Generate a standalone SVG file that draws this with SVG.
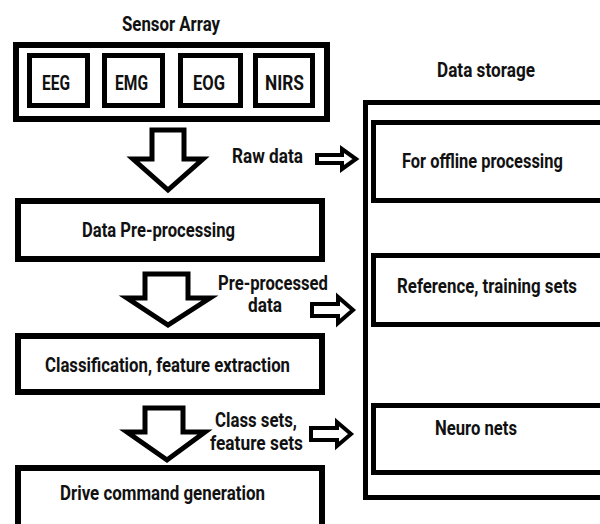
<svg xmlns="http://www.w3.org/2000/svg" width="600" height="524" viewBox="0 0 600 524">
<style>
.box{fill:#fff;stroke:#000;stroke-width:6}
.ibox{fill:#fff;stroke:#000;stroke-width:5}
.big{fill:#fff;stroke:#000;stroke-width:5;stroke-linejoin:miter}
.small{fill:#fff;stroke:#000;stroke-width:4;stroke-linejoin:miter}
text{font-family:Roboto,"Liberation Sans",sans-serif;font-weight:700;font-size:21px;fill:#111}
</style>
<rect width="600" height="524" fill="#fff"/>
<g id="sensor-array">
<text x="122" y="31" textLength="98" lengthAdjust="spacingAndGlyphs">Sensor Array</text>
<rect class="box" x="16" y="45" width="311" height="74"/>
<g id="eeg"><rect class="ibox" x="29.5" y="55.5" width="58" height="50"/><text x="42" y="90" textLength="28" lengthAdjust="spacingAndGlyphs">EEG</text></g>
<g id="emg"><rect class="ibox" x="104.5" y="55.5" width="58" height="50"/><text x="115" y="90" textLength="33" lengthAdjust="spacingAndGlyphs">EMG</text></g>
<g id="eog"><rect class="ibox" x="180.5" y="55.5" width="60" height="50"/><text x="193" y="90" textLength="32" lengthAdjust="spacingAndGlyphs">EOG</text></g>
<g id="nirs"><rect class="ibox" x="255.5" y="55.5" width="57" height="50"/><text x="265" y="90" textLength="39" lengthAdjust="spacingAndGlyphs">NIRS</text></g>
</g>
<g id="data-preprocessing">
<rect class="box" x="18" y="201" width="304" height="58"/>
<text x="82" y="237" textLength="153" lengthAdjust="spacingAndGlyphs">Data Pre-processing</text>
</g>
<g id="classification">
<rect class="box" x="18" y="336" width="304" height="56"/>
<text x="45" y="372" textLength="245" lengthAdjust="spacingAndGlyphs">Classification, feature extraction</text>
</g>
<g id="drive-command">
<rect class="box" x="18" y="468" width="304" height="80"/>
<text x="60" y="500" textLength="205" lengthAdjust="spacingAndGlyphs">Drive command generation</text>
</g>
<g id="data-storage">
<text x="437" y="77" textLength="98" lengthAdjust="spacingAndGlyphs">Data storage</text>
<rect class="ibox" x="365.5" y="102.5" width="260" height="395"/>
<g id="offline"><rect class="ibox" x="373.5" y="122.5" width="250" height="78"/><text transform="translate(402,168) scale(0.8,1)" x="0" y="0" textLength="201" lengthAdjust="spacingAndGlyphs">For offline processing</text></g>
<g id="reference"><rect class="ibox" x="373.5" y="255.5" width="250" height="69"/><text transform="translate(397,293) scale(0.8,1)" x="0" y="0" textLength="225" lengthAdjust="spacingAndGlyphs">Reference, training sets</text></g>
<g id="neuro"><rect class="ibox" x="373.5" y="405.5" width="250" height="67"/><text x="435" y="435" textLength="82" lengthAdjust="spacingAndGlyphs">Neuro nets</text></g>
</g>
<g id="connectors">
<polygon class="big" points="152,130 184,130 184,159 203,159 168,190 133,159 152,159"/>
<polygon class="big" points="145,274 188,274 188,298 210,298 168,325 127,298 145,298"/>
<polygon class="big" points="145,408 183,408 183,432 205,432 167,460 127,432 145,432"/>
<polygon class="small" points="317,155 342,155 342,149 356,159 342,169 342,163 317,163"/>
<polygon class="small" points="312,304 338,304 338,297 353,310 338,323 338,316 312,316"/>
<polygon class="small" points="311,428 337,428 337,422 351,434 337,446 337,440 311,440"/>
<text x="232" y="163" textLength="71" lengthAdjust="spacingAndGlyphs">Raw data</text>
<text x="218" y="290" textLength="110" lengthAdjust="spacingAndGlyphs">Pre-processed</text>
<text x="248" y="312" textLength="34" lengthAdjust="spacingAndGlyphs">data</text>
<text x="215" y="427" textLength="82" lengthAdjust="spacingAndGlyphs">Class sets,</text>
<text x="210" y="450" textLength="93" lengthAdjust="spacingAndGlyphs">feature sets</text>
</g>
</svg>
